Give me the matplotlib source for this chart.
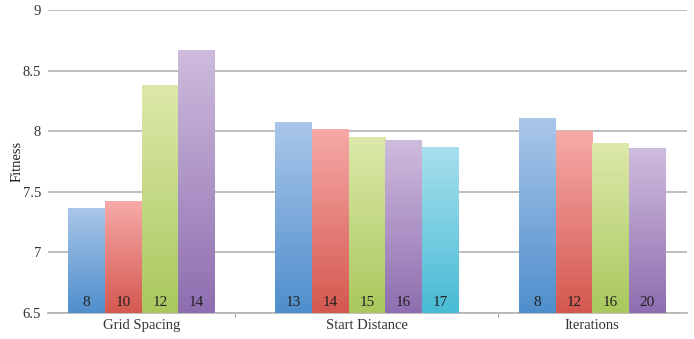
import numpy as np
import matplotlib.pyplot as plt
from matplotlib.colors import LinearSegmentedColormap

# chart values
groups = ["Grid Spacing", "Start Distance", "Iterations"]
grid_labels = ["8", "10", "12", "14"]
grid_values = [7.37, 7.42, 8.38, 8.67]
start_labels = ["13", "14", "15", "16", "17"]
start_values = [8.08, 8.02, 7.95, 7.93, 7.87]
iter_labels = ["8", "12", "16", "20"]
iter_values = [8.11, 8.00, 7.90, 7.86]

# (top colour, bottom colour) for each series slot
colours = [
    ("#aac7e9", "#4f8ecc"),
    ("#f7aaa8", "#d4584f"),
    ("#dde9aa", "#a9c85d"),
    ("#cfbcdd", "#8e6eb0"),
    ("#a8e0ed", "#48bbd5"),
]

plt.rcParams['font.family'] = ['Liberation Serif', 'DejaVu Serif']

fig = plt.figure(figsize=(6.94, 3.39), dpi=100)
ax = fig.add_axes([0.0692, 0.0767, 0.9207, 0.8938])

bar_w = 0.163
grad = np.linspace(0, 1, 256).reshape(-1, 1)

data = [(grid_labels, grid_values), (start_labels, start_values), (iter_labels, iter_values)]
for gi, (labels, values) in enumerate(data):
    n = len(values)
    offsets = (np.arange(n) - (n - 1) / 2) * bar_w
    for k, (lab, val) in enumerate(zip(labels, values)):
        x = gi + offsets[k]
        bars = ax.bar(x, val - 6.5, bottom=6.5, width=bar_w, color="none",
                      edgecolor="none", zorder=3)
        cmap = LinearSegmentedColormap.from_list("g", [colours[k][1], colours[k][0]])
        im = ax.imshow(grad, cmap=cmap, aspect="auto", origin="lower",
                       extent=[x - bar_w / 2, x + bar_w / 2, 6.5, val], zorder=3)
        im.set_clip_path(bars[0])
        ax.annotate(lab, (x, 6.5), xytext=(0, 3), textcoords="offset points",
                    ha="center", va="bottom", fontsize=11, color="#222222", zorder=4)

ax.set_xlim(-0.415, 2.42)
ax.set_ylim(6.5, 9)
ax.set_yticks([6.5, 7, 7.5, 8, 8.5, 9])
ax.set_yticklabels(["6.5", "7", "7.5", "8", "8.5", "9"], fontsize=10.5, color="#333333")
ax.set_xticks([0, 1, 2])
ax.set_xticklabels(groups, fontsize=10.5, color="#333333")
ax.set_xticks([0.415, 1.58], minor=True)
ax.tick_params(axis="x", which="major", length=0, pad=4)
ax.tick_params(axis="x", which="minor", length=3, color="#999999", direction="out")
ax.tick_params(axis="y", length=0, pad=5)
ax.grid(axis="y", color="#b8b8b8", linewidth=1.3, zorder=0)
ax.set_axisbelow(True)
for s in ["top", "right", "left"]:
    ax.spines[s].set_visible(False)
ax.spines["bottom"].set_color("#b8b8b8")
ax.spines["bottom"].set_linewidth(1.3)
ax.set_ylabel("Fitness", fontsize=10.5, color="#222222")
ax.yaxis.set_label_coords(-0.038, 0.5)

fig.savefig("out.png", dpi=100)
